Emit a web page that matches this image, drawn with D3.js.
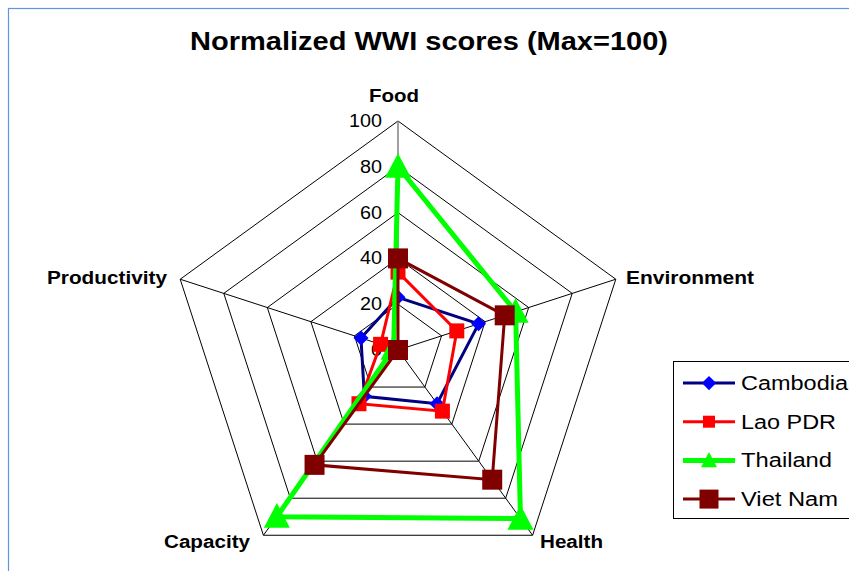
<!DOCTYPE html>
<html lang="en">
	<head>
		<meta charset="utf-8">
		<title>Normalized WWI scores</title>
		<script type="text/javascript" src="https://d3js.org/d3.v7.min.js"></script>
		<style type="text/css">
			body { margin: 0; background: #fff; }
			text { font-family: Arial, "Liberation Sans", sans-serif; }
		</style>
	</head>
	<body>
		<script type="text/javascript">

			//Data
			var axesNames = ["Food", "Environment", "Health", "Capacity", "Productivity"];
			var tickValues = [0, 20, 40, 60, 80, 100];
			var seriesNames = ["Cambodia", "Lao PDR", "Thailand", "Viet Nam"];
			var cambodia = [23, 37, 29, 25, 17];
			var laoPDR = [34, 27, 33, 29, 8];
			var thailand = [80, 54, 91, 90, 2];
			var vietNam = [40, 49, 70, 62, 0];

			var w = 849;
			var h = 571;
			var cx = 398, cy = 350, radius = 229;

			var svg = d3.select("body")
						.append("svg")
						.attr("width", w)
						.attr("height", h);

			//Chart border
			svg.append("rect")
			   .attr("x", 8.5).attr("y", 8.5)
			   .attr("width", w + 20).attr("height", h + 20)
			   .attr("fill", "none")
			   .attr("stroke", "#5f97dc")
			   .attr("stroke-width", 1.2);

			//Title
			svg.append("text")
			   .attr("x", 429).attr("y", 50)
			   .attr("text-anchor", "middle")
			   .attr("font-size", "25px")
			   .attr("font-weight", "bold")
			   .attr("textLength", 478)
			   .attr("lengthAdjust", "spacingAndGlyphs")
			   .text("Normalized WWI scores (Max=100)");

			var rScale = d3.scaleLinear().domain([0, 100]).range([0, radius]);
			var angle = d3.scalePoint().domain(axesNames).range([0, 2 * Math.PI * 4 / 5]);

			function pt(name, v) {
				var a = angle(name) - Math.PI / 2;
				return [cx + rScale(v) * Math.cos(a), cy + rScale(v) * Math.sin(a)];
			}

			var grid = svg.append("g");

			//Rings
			tickValues.slice(1).forEach(function(t) {
				grid.append("polygon")
					.attr("points", axesNames.map(function(n) { return pt(n, t).join(","); }).join(" "))
					.attr("fill", "none")
					.attr("stroke", "#000")
					.attr("stroke-width", 1);
			});

			//Spokes
			grid.selectAll("line.spoke")
				.data(axesNames)
				.enter()
				.append("line")
				.attr("x1", cx).attr("y1", cy)
				.attr("x2", function(d) { return pt(d, 100)[0]; })
				.attr("y2", function(d) { return pt(d, 100)[1]; })
				.attr("stroke", function(d, i) { return i === 0 ? "#808080" : "#000"; })
				.attr("stroke-width", function(d, i) { return i === 0 ? 1.5 : 1; });

			//Tick labels
			svg.selectAll("text.tick")
			   .data(tickValues)
			   .enter()
			   .append("text")
			   .attr("x", cx - 16)
			   .attr("y", function(d) { return cy - rScale(d) + 6; })
			   .attr("text-anchor", "end")
			   .attr("font-size", "18px")
			   .attr("textLength", function(d) { return String(d).length * 11; })
			   .attr("lengthAdjust", "spacingAndGlyphs")
			   .text(function(d) { return d; });

			//Axis labels
			var labelPos = [
				{x: 369, y: 102, len: 50},
				{x: 626, y: 284, len: 128},
				{x: 540, y: 548, len: 63},
				{x: 164, y: 548, len: 86},
				{x: 47, y: 284, len: 120}
			];
			svg.selectAll("text.axis")
			   .data(axesNames)
			   .enter()
			   .append("text")
			   .attr("x", function(d, i) { return labelPos[i].x; })
			   .attr("y", function(d, i) { return labelPos[i].y; })
			   .attr("font-size", "18px")
			   .attr("font-weight", "bold")
			   .attr("textLength", function(d, i) { return labelPos[i].len; })
			   .attr("lengthAdjust", "spacingAndGlyphs")
			   .text(function(d) { return d; });

			//Series
			var series = [
				{name: seriesNames[0], values: cambodia, line: "#000080", fill: "#0000ff", width: 3, marker: "diamond", size: 15, len: 107},
				{name: seriesNames[1], values: laoPDR, line: "#ff0000", fill: "#ff0000", width: 3, marker: "square", size: 15, len: 95},
				{name: seriesNames[2], values: thailand, line: "#00ff00", fill: "#00ff00", width: 5, marker: "triangle", size: 26, len: 91},
				{name: seriesNames[3], values: vietNam, line: "#800000", fill: "#800000", width: 3, marker: "square", size: 20, len: 97}
			];

			function markerPath(type, s) {
				var r = s / 2;
				if (type === "diamond") return "M0," + (-r) + "L" + r + ",0L0," + r + "L" + (-r) + ",0Z";
				if (type === "square") return "M" + (-r) + "," + (-r) + "h" + s + "v" + s + "h" + (-s) + "Z";
				return "M0," + (-r * 1.05) + "L" + r + "," + (r * 0.85) + "L" + (-r) + "," + (r * 0.85) + "Z";
			}

			var lineGen = d3.line().curve(d3.curveLinearClosed);

			series.forEach(function(s) {
				var pts = s.values.map(function(v, i) { return pt(axesNames[i], v); });
				svg.append("path")
				   .attr("d", lineGen(pts))
				   .attr("fill", "none")
				   .attr("stroke", s.line)
				   .attr("stroke-width", s.width)
				   .attr("stroke-linejoin", "miter");
				svg.selectAll(null)
				   .data(pts)
				   .enter()
				   .append("path")
				   .attr("d", markerPath(s.marker, s.size))
				   .attr("transform", function(d) { return "translate(" + d[0] + "," + d[1] + ")"; })
				   .attr("fill", s.fill);
			});

			//Legend
			var legend = svg.append("g");
			legend.append("rect")
				  .attr("x", 673.5).attr("y", 361.5)
				  .attr("width", 200).attr("height", 157)
				  .attr("fill", "#fff")
				  .attr("stroke", "#000")
				  .attr("stroke-width", 1);

			series.forEach(function(s, i) {
				var y = 383 + i * 38.7;
				legend.append("line")
					  .attr("x1", 683).attr("x2", 735)
					  .attr("y1", y).attr("y2", y)
					  .attr("stroke", s.line)
					  .attr("stroke-width", s.width);
				legend.append("path")
					  .attr("d", markerPath(s.marker, s.marker === "triangle" ? 16 : (i === 1 ? 12 : s.size * 0.95)))
					  .attr("transform", "translate(709," + y + ")")
					  .attr("fill", s.fill);
				legend.append("text")
					  .attr("x", 741).attr("y", y + 7)
					  .attr("font-size", "20px")
					  .attr("textLength", s.len)
					  .attr("lengthAdjust", "spacingAndGlyphs")
					  .text(s.name);
			});

		</script>
	</body>
</html>
